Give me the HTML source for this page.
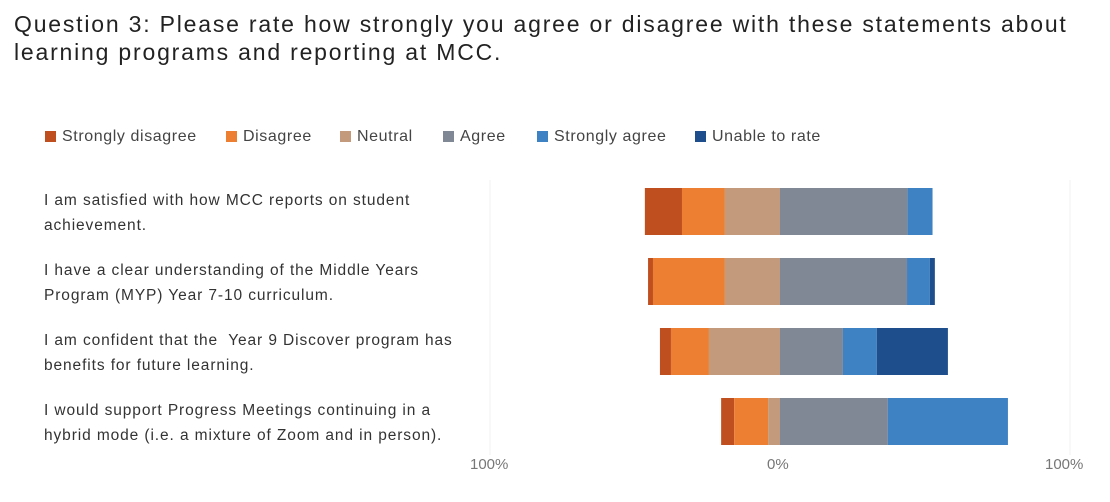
<!DOCTYPE html>
<html><head><meta charset="utf-8"><style>
body{margin:0;background:#fff;font-family:"Liberation Sans",sans-serif;}
#wrap{position:relative;width:1110px;height:502px;overflow:hidden;}
.title{position:absolute;left:14px;top:10px;font-size:23px;line-height:28px;color:#222;letter-spacing:1.8px;white-space:nowrap;}
.leg{position:absolute;top:128px;font-size:16px;color:#444;letter-spacing:0.6px;white-space:nowrap;}
.leg span{display:inline-block;width:11px;height:11px;margin-right:6px;vertical-align:-1px;}
.lab{position:absolute;left:44px;font-size:15.5px;line-height:25px;color:#333;letter-spacing:0.9px;white-space:nowrap;}
.tick{position:absolute;top:456px;font-size:15px;color:#777;}
</style></head><body><div id="wrap">
<div class="title">Question 3: Please rate how strongly you agree or disagree with these statements about<br>learning programs and reporting at MCC.</div>
<div id="legend"></div>
<div class="lab" style="top:188px">I am satisfied with how MCC reports on student<br>achievement.</div>
<div class="lab" style="top:258px">I have a clear understanding of the Middle Years<br>Program (MYP) Year 7-10 curriculum.</div>
<div class="lab" style="top:328px">I am confident that the&nbsp; Year 9 Discover program has<br>benefits for future learning.</div>
<div class="lab" style="top:398px">I would support Progress Meetings continuing in a<br>hybrid mode (i.e. a mixture of Zoom and in person).</div>
<svg id="svg" width="1110" height="502" style="position:absolute;left:0;top:0"></svg>
<div class="tick" style="left:470px">100%</div>
<div class="tick" style="left:767px">0%</div>
<div class="tick" style="left:1045px">100%</div>
</div>
<script>
const seriesNames=["Strongly disagree","Disagree","Neutral","Agree","Strongly agree","Unable to rate"];
const colors=["#bf4f1f","#ec7f32","#c39a7c","#7f8894","#3f82c4","#1f4e8c"];
const stronglyDisagree=[12.8,1.7,3.8,4.5];
const disagree=[14.8,24.8,13.1,11.7];
const neutral=[19,19,24.5,4.1];
const agree=[44,43.8,21.7,37.2];
const stronglyAgree=[8.6,7.9,11.7,41.4];
const unableToRate=[0,1.7,24.5,0];
const cx=780,scale=2.9,barTop=[188,258,328,398],barH=47;
const x=v=>cx+v*scale;
const svg=document.getElementById('svg');const NS="http://www.w3.org/2000/svg";
[490,1070].forEach(px=>{const l=document.createElementNS(NS,'line');l.setAttribute('x1',px);l.setAttribute('x2',px);l.setAttribute('y1',180);l.setAttribute('y2',455);l.setAttribute('stroke','#f0f0f0');


svg.appendChild(l);});
const all=[stronglyDisagree,disagree,neutral,agree,stronglyAgree,unableToRate];
for(let i=0;i<4;i++){
  let left=-(stronglyDisagree[i]+disagree[i]+neutral[i]);
  all.forEach((arr,s)=>{const v=arr[i];if(v<=0){return;}
    const r=document.createElementNS(NS,'rect');
    r.setAttribute('x',x(left));r.setAttribute('width',v*scale);
    r.setAttribute('y',barTop[i]);r.setAttribute('height',barH);r.setAttribute('fill',colors[s]);
    
    
    svg.appendChild(r);left+=v;});
}
const lg=document.getElementById('legend');const legX=[45,226,340,443,537,695];
seriesNames.forEach((n,s)=>{const d=document.createElement('div');d.className='leg';d.style.left=legX[s]+'px';
d.innerHTML='<span style="background:'+colors[s]+'"></span>'+n;


lg.appendChild(d);});
</script></body></html>
